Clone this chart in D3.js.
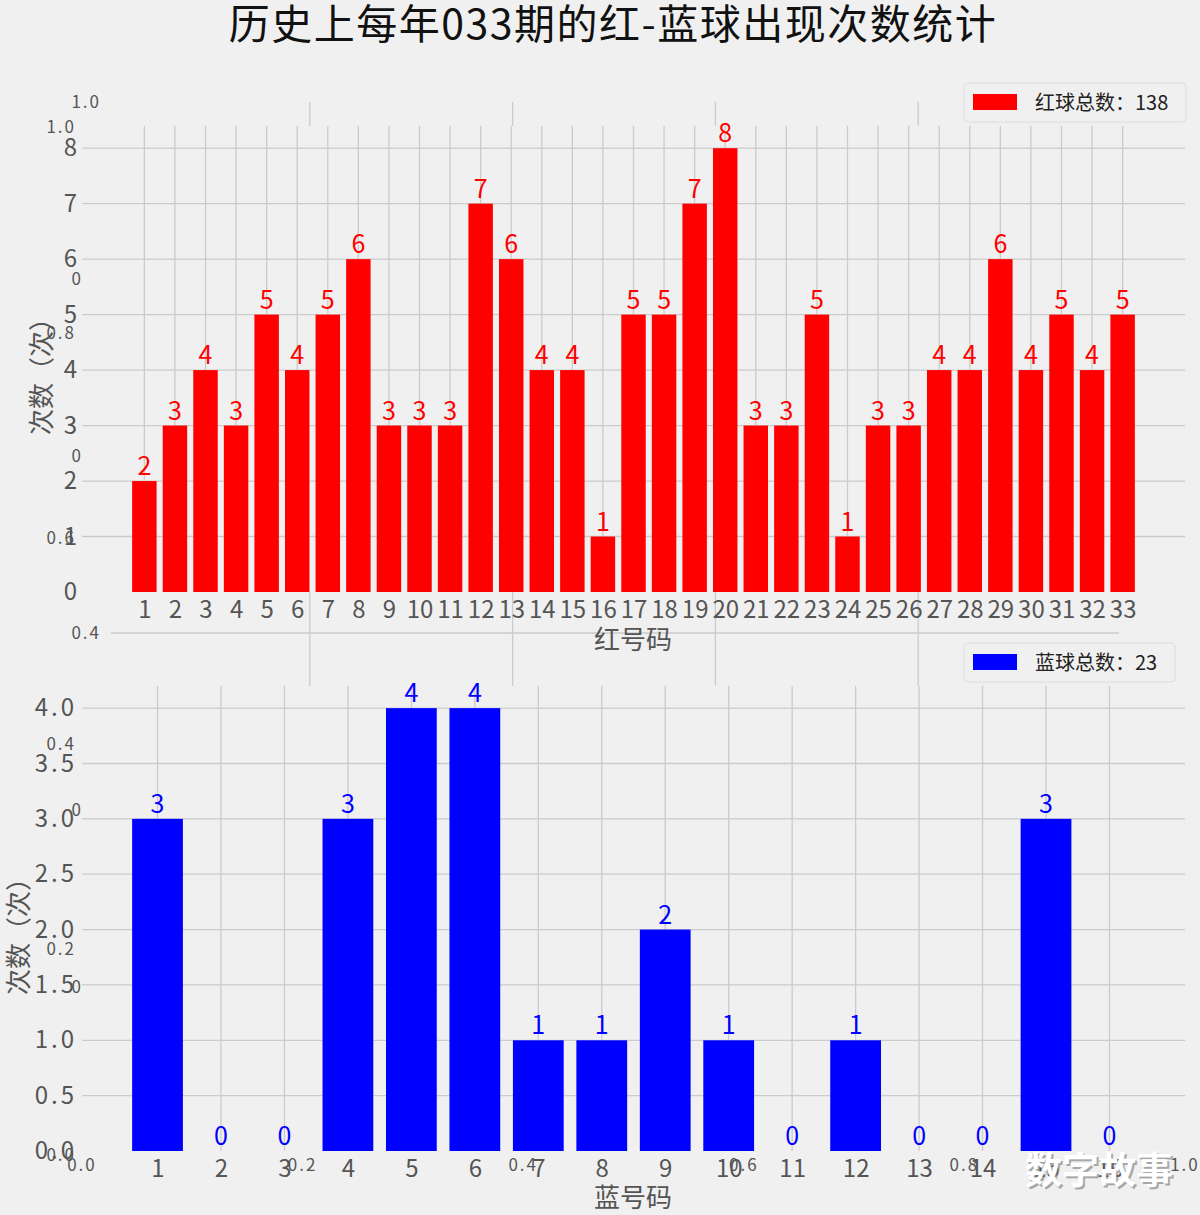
<!DOCTYPE html>
<html lang="zh">
<head>
  <title>历史上每年033期的红-蓝球出现次数统计</title>
  <meta charset="utf-8">
<style>
body {
  margin: 0;
  background: #f0f0f0;
}
svg {
  display: block;
  font-family: "Noto Sans CJK SC", "Noto Sans", sans-serif;
}
.tick text {
  fill: #555;
}
</style>
</head>
<body>
<div id="app"></div>
<script src="https://d3js.org/d3.v7.min.js"></script>
<script>
// 红球号码と出現回数
const redBalls = [1, 2, 3, 4, 5, 6, 7, 8, 9, 10, 11, 12, 13, 14, 15, 16, 17,
                  18, 19, 20, 21, 22, 23, 24, 25, 26, 27, 28, 29, 30, 31, 32, 33]
const redCounts = [2, 3, 4, 3, 5, 4, 5, 6, 3, 3, 3, 7, 6, 4, 4, 1, 5,
                   5, 7, 8, 3, 3, 5, 1, 3, 3, 4, 4, 6, 4, 5, 4, 5]
// 蓝球
const blueBalls = [1, 2, 3, 4, 5, 6, 7, 8, 9, 10, 11, 12, 13, 14, 15, 16]
const blueCounts = [3, 0, 0, 3, 4, 4, 1, 1, 2, 1, 0, 1, 0, 0, 3, 0]

const redTicks = [0, 1, 2, 3, 4, 5, 6, 7, 8]
const blueTicks = [0, 0.5, 1, 1.5, 2, 2.5, 3, 3.5, 4]
const bgTicks = [0, 0.2, 0.4, 0.6, 0.8, 1]

const title = "历史上每年033期的红-蓝球出现次数统计"
const yLabel = "次数（次）"

const width = 1200, height = 1215
const grid = "#cbcbcb"

const svg = d3.select("#app").append("svg")
    .attr("width", width)
    .attr("height", height)
    .attr("viewBox", [0, 0, width, height])

svg.append("rect")
    .attr("width", width).attr("height", height)
    .attr("fill", "#f0f0f0")

// 後ろに残った空の axes (0〜1)
const bx = d3.scaleLinear().domain([0, 1]).range([107, 1121])
const by = d3.scaleLinear().domain([0, 1]).range([987, 102])
const back = svg.append("g")
back.selectAll("line.v")
  .data(bgTicks.filter(d => d > 0 && d < 1))
  .join("line")
    .attr("x1", d => bx(d)).attr("x2", d => bx(d))
    .attr("y1", by(1)).attr("y2", by(0))
    .attr("stroke", grid).attr("stroke-width", 1.3)
back.selectAll("line.h")
  .data(bgTicks.filter(d => d > 0 && d < 1))
  .join("line")
    .attr("x1", bx(0) + 4).attr("x2", bx(1) - 2)
    .attr("y1", d => by(d)).attr("y2", d => by(d))
    .attr("stroke", grid).attr("stroke-width", 1.3)
back.selectAll("text")
  .data(bgTicks)
  .join("text")
    .attr("x", 101)
    .attr("y", d => by(d))
    .attr("dy", "0.35em")
    .attr("text-anchor", "end")
    .attr("font-size", 17)
    .attr("letter-spacing", 2)
    .attr("fill", "#555")
    .text(d => d.toFixed(1))

function panel(o) {
  const x = d3.scaleLinear().domain(o.xDomain).range([82, 1185])
  const y = d3.scaleLinear().domain(o.yDomain).range(o.yRange)
  const g = svg.append("g")

  g.append("rect")
      .attr("x", x.range()[0]).attr("y", y.range()[1])
      .attr("width", x.range()[1] - x.range()[0])
      .attr("height", y.range()[0] - y.range()[1])
      .attr("fill", "#f0f0f0")

  g.append("g").selectAll("line")
    .data(o.cats)
    .join("line")
      .attr("x1", d => x(d)).attr("x2", d => x(d))
      .attr("y1", y.range()[1]).attr("y2", y.range()[0])
      .attr("stroke", grid).attr("stroke-width", 1.3)
  g.append("g").selectAll("line")
    .data(o.ticks.filter(d => d > 0))
    .join("line")
      .attr("x1", x.range()[0]).attr("x2", x.range()[1])
      .attr("y1", d => y(d)).attr("y2", d => y(d))
      .attr("stroke", grid).attr("stroke-width", 1.3)

  g.append("g").selectAll("rect")
    .data(o.cats.map((c, i) => ({c, v: o.values[i]})))
    .join("rect")
      .attr("x", d => x(d.c - 0.4))
      .attr("width", d => x(d.c + 0.4) - x(d.c - 0.4))
      .attr("y", d => y(d.v))
      .attr("height", d => y(0) - y(d.v))
      .attr("fill", o.color)

  g.append("g").selectAll("text")
    .data(o.cats.map((c, i) => ({c, v: o.values[i]})))
    .join("text")
      .attr("x", d => x(d.c))
      .attr("y", d => y(d.v) - 6)
      .attr("text-anchor", "middle")
      .attr("font-size", 25)
      .attr("fill", o.color)
      .text(d => d.v)

  g.append("g")
      .attr("transform", `translate(0,${y(0)})`)
      .call(d3.axisBottom(x).tickValues(o.cats).tickSize(0).tickPadding(9))
      .attr("font-family", null).attr("font-size", 24)
      .call(g => g.select(".domain").remove())

  g.append("g")
      .attr("transform", `translate(${x.range()[0]},0)`)
      .call(d3.axisLeft(y).tickValues(o.ticks).tickFormat(o.fmt).tickSize(0).tickPadding(5))
      .attr("font-family", null).attr("font-size", 24)
      .attr("letter-spacing", o.spacing)
      .call(g => g.select(".domain").remove())

  g.append("text")
      .attr("x", 633).attr("y", o.xTitleY)
      .attr("text-anchor", "middle")
      .attr("font-size", 26)
      .attr("fill", "#555")
      .text(o.xTitle)

  g.append("text")
      .attr("transform", `translate(${o.yTitleX},${o.yTitleY}) rotate(-90)`)
      .attr("text-anchor", "middle")
      .attr("font-size", 26)
      .attr("fill", "#555")
      .text(yLabel)

  // 凡例
  const lg = g.append("g").attr("transform", `translate(964,${o.legendY})`)
  lg.append("rect")
      .attr("width", o.legendW).attr("height", 39)
      .attr("rx", 4)
      .attr("fill", "#f0f0f0")
      .attr("stroke", "#dcdcdc")
  lg.append("rect")
      .attr("x", 9).attr("y", 11)
      .attr("width", 44).attr("height", 16)
      .attr("fill", o.color)
  lg.append("text")
      .attr("x", 71).attr("y", 27)
      .attr("font-size", 20)
      .attr("fill", "#222")
      .text(o.legend)
}

panel({
  cats: redBalls, values: redCounts, ticks: redTicks,
  fmt: d3.format("d"), spacing: 0,
  xDomain: [-1.04, 35.04], yDomain: [0, 8.4], yRange: [592, 126],
  color: "#ff0000",
  xTitle: "红号码", xTitleY: 649,
  yTitleX: 51, yTitleY: 370,
  legendY: 83, legendW: 222,
  legend: "红球总数：" + d3.sum(redCounts)
})

panel({
  cats: blueBalls, values: blueCounts, ticks: blueTicks,
  fmt: d3.format(".1f"), spacing: 3,
  xDomain: [-0.19, 17.19], yDomain: [0, 4.2], yRange: [1151, 686],
  color: "#0000ff",
  xTitle: "蓝号码", xTitleY: 1207,
  yTitleX: 28, yTitleY: 930,
  legendY: 643, legendW: 211,
  legend: "蓝球总数：" + d3.sum(blueCounts)
})

// 手前の空の axes のラベル
const ax = d3.scaleLinear().domain([0, 1]).range([82, 1185])
const ay = d3.scaleLinear().domain([0, 1]).range([1155, 127])
const front = svg.append("g").attr("fill", "#555").attr("font-size", 17)
  .attr("letter-spacing", 2)
front.selectAll("text.y")
  .data(bgTicks)
  .join("text")
    .attr("x", 76)
    .attr("y", d => ay(d))
    .attr("dy", "0.35em")
    .attr("text-anchor", "end")
    .text(d => d.toFixed(1))
front.selectAll("text.x")
  .data(bgTicks)
  .join("text")
    .attr("x", d => ax(d))
    .attr("y", 1171)
    .attr("text-anchor", "middle")
    .text(d => d.toFixed(1))

svg.append("text")
    .attr("x", 613).attr("y", 39)
    .attr("text-anchor", "middle")
    .attr("font-size", 41)
    .attr("letter-spacing", 1.5)
    .attr("fill", "#111")
    .text(title)

// 透かし
const wm = svg.append("g").attr("font-size", 37).attr("font-weight", "bold")
wm.append("text")
    .attr("x", 1027).attr("y", 1186)
    .attr("fill", "#777").attr("opacity", 0.6)
    .text("数字故事")
wm.append("text")
    .attr("x", 1025).attr("y", 1184)
    .attr("fill", "#fff")
    .text("数字故事")
</script>
</body>
</html>
